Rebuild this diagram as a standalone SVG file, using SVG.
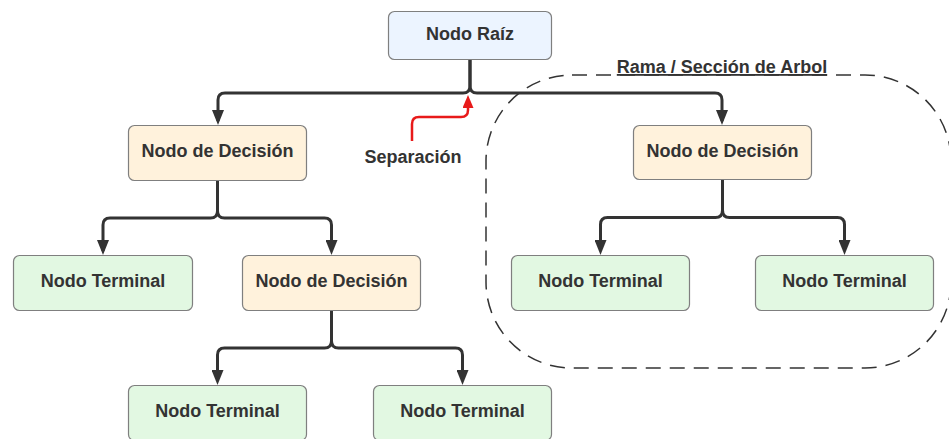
<svg xmlns="http://www.w3.org/2000/svg" width="949" height="439" viewBox="0 0 949 439">
  <style>
    .box { stroke: #7f7f7f; stroke-width: 1.2; }
    .root { fill: #ecf4ff; }
    .dec { fill: #fff2dc; }
    .term { fill: #e2f8e2; }
    .lbl { font-family: "Liberation Sans", Arial, sans-serif; font-weight: bold; font-size: 18px; fill: #333333; text-anchor: middle; }
    .edge { fill: none; stroke: #333333; stroke-width: 3; stroke-linejoin: round; marker-end: url(#arr); }
    .sep { fill: none; stroke: #e81a1a; stroke-width: 2.5; marker-end: url(#arrRed); }
    .branch { fill: none; stroke: #333333; stroke-width: 1.5; stroke-dasharray: 15 9; }
  </style>
  <defs>
    <!-- dark arrowhead: tip lies 4px past the end of the line -->
    <marker id="arr" markerUnits="userSpaceOnUse" viewBox="0 0 15 12" markerWidth="15" markerHeight="12" refX="11" refY="6" orient="auto">
      <path d="M0,0 L15,6 L0,12 Z" fill="#333333"/>
    </marker>
    <!-- red arrowhead for the separation pointer -->
    <marker id="arrRed" markerUnits="userSpaceOnUse" viewBox="0 0 13 11" markerWidth="13" markerHeight="11" refX="3" refY="5.5" orient="auto">
      <path d="M0,0 L13,5.5 L0,11 Z" fill="#e81a1a"/>
    </marker>
  </defs>

  <!-- branch section outline -->
  <g id="branch-section">
    <rect class="branch" x="486" y="75" width="465" height="293" rx="86" ry="86"/>
    <text class="lbl" x="722" y="73" text-decoration="underline">Rama / Sección de Arbol</text>
  </g>

  <!-- connectors -->
  <g id="connectors">
    <!-- root split -->
    <path class="edge" d="M470,60 V86 Q470,93 463,93 H225 Q218,93 218,100 V121"/>
    <path class="edge" d="M470,60 V86 Q470,93 477,93 H715 Q722,93 722,100 V121"/>
    <!-- left decision split -->
    <path class="edge" d="M217.5,181 V211 Q217.5,218 210.5,218 H110 Q103,218 103,225 V251"/>
    <path class="edge" d="M217.5,181 V211 Q217.5,218 224.5,218 H324.5 Q331.5,218 331.5,225 V251"/>
    <!-- lower decision split -->
    <path class="edge" d="M331.5,311 V341 Q331.5,348 324.5,348 H224.5 Q217.5,348 217.5,355 V381"/>
    <path class="edge" d="M331.5,311 V341 Q331.5,348 338.5,348 H455.5 Q462.5,348 462.5,355 V381"/>
    <!-- right decision split -->
    <path class="edge" d="M722.5,180 V210 Q722.5,217.5 715.5,217.5 H607.5 Q600.5,217.5 600.5,224.5 V251"/>
    <path class="edge" d="M722.5,180 V210 Q722.5,217.5 729.5,217.5 H837.5 Q844.5,217.5 844.5,224.5 V251"/>
    <!-- separation pointer -->
    <path class="sep" d="M412,141 V124 Q412,117 419,117 H461 Q468,117 468,110 V105"/>
  </g>

  <g id="separacion-label">
    <text class="lbl" x="413" y="163">Separación</text>
  </g>

  <g id="root">
    <rect class="box root" x="388.5" y="11.5" width="163" height="48" rx="6"/>
    <text class="lbl" x="470" y="39.5">Nodo Raíz</text>
  </g>

  <g id="decision-left">
    <rect class="box dec" x="128.5" y="125.5" width="178" height="55" rx="6"/>
    <text class="lbl" x="217.5" y="157">Nodo de Decisión</text>
  </g>

  <g id="decision-right">
    <rect class="box dec" x="633.5" y="125.5" width="178" height="54" rx="6"/>
    <text class="lbl" x="722.5" y="156.5">Nodo de Decisión</text>
  </g>

  <g id="terminal-1">
    <rect class="box term" x="13.5" y="255.5" width="179" height="55" rx="6"/>
    <text class="lbl" x="103" y="286.5">Nodo Terminal</text>
  </g>

  <g id="decision-lower">
    <rect class="box dec" x="242.5" y="255.5" width="178" height="55" rx="6"/>
    <text class="lbl" x="331.5" y="286.5">Nodo de Decisión</text>
  </g>

  <g id="terminal-2">
    <rect class="box term" x="511.5" y="255.5" width="178" height="55" rx="6"/>
    <text class="lbl" x="600.5" y="286.5">Nodo Terminal</text>
  </g>

  <g id="terminal-3">
    <rect class="box term" x="755.5" y="255.5" width="178" height="55" rx="6"/>
    <text class="lbl" x="844.5" y="286.5">Nodo Terminal</text>
  </g>

  <g id="terminal-4">
    <rect class="box term" x="128.5" y="385.5" width="178" height="55" rx="6"/>
    <text class="lbl" x="217.5" y="416.5">Nodo Terminal</text>
  </g>

  <g id="terminal-5">
    <rect class="box term" x="373.5" y="385.5" width="178" height="55" rx="6"/>
    <text class="lbl" x="462.5" y="416.5">Nodo Terminal</text>
  </g>
</svg>
